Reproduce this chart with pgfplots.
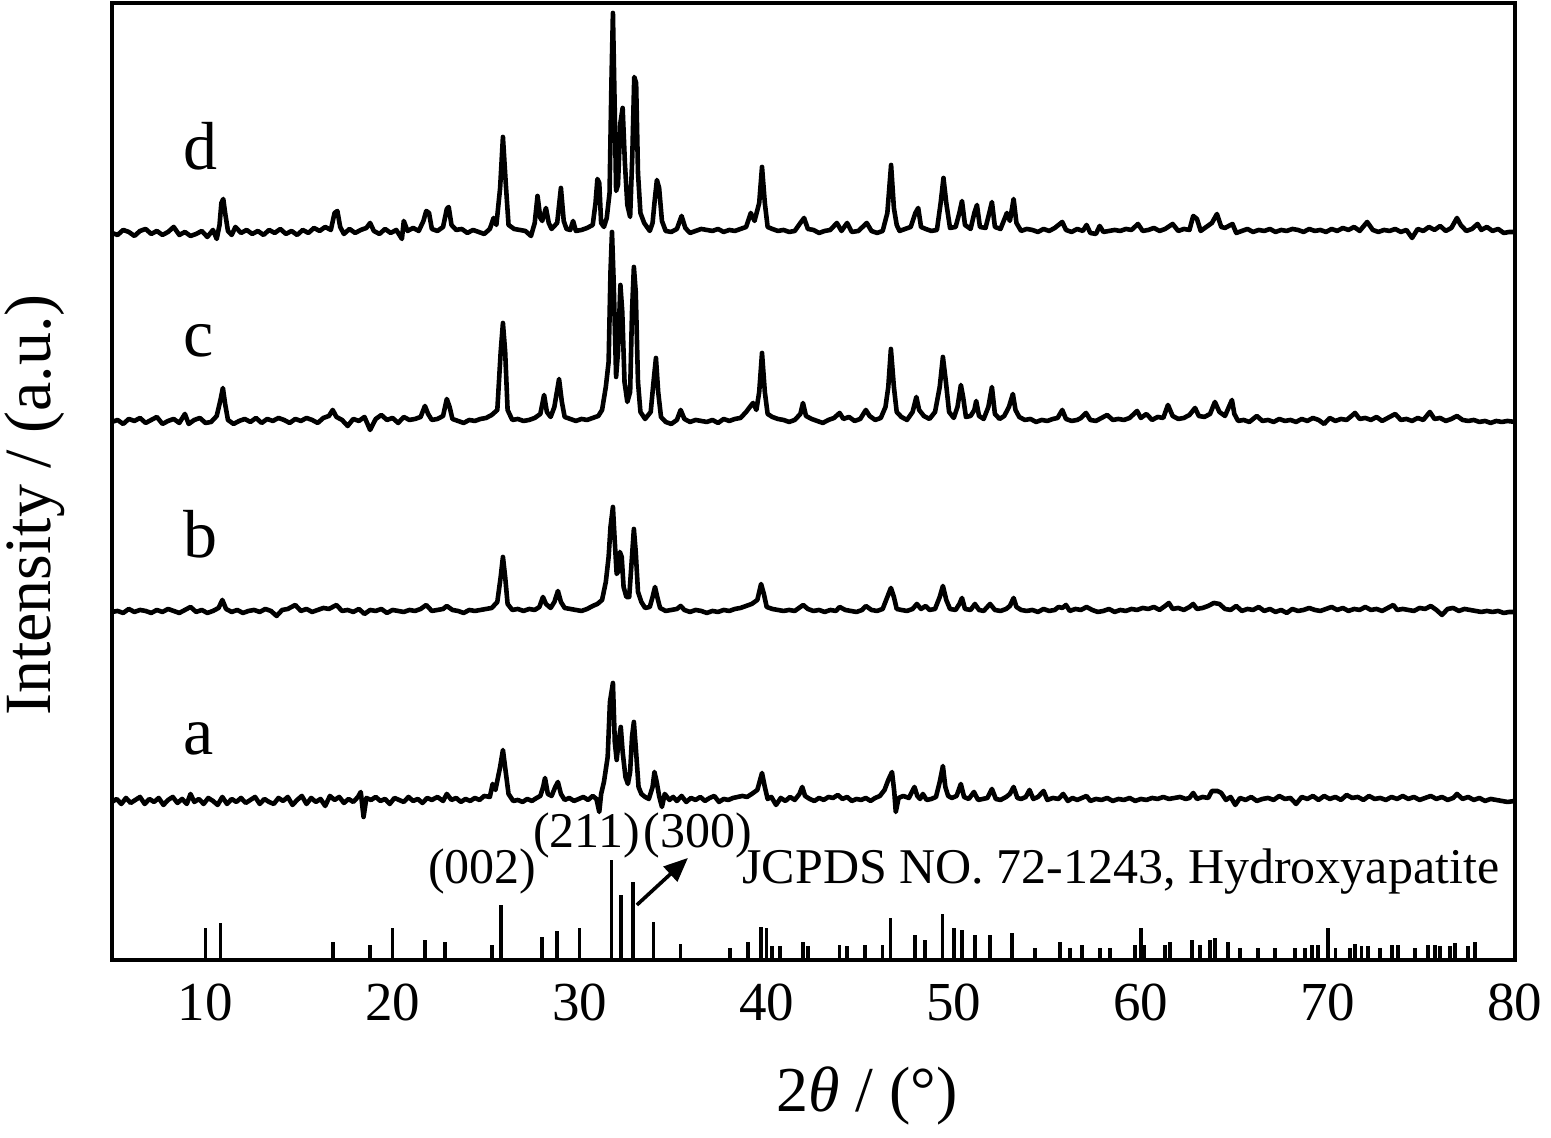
\documentclass[border=0pt]{standalone}
\usepackage{pgfplots}
\pgfplotsset{compat=1.18}
\usepackage{fontspec}
\setmainfont{Liberation Serif}
\usetikzlibrary{arrows.meta}

% y values are heights above each pattern's own baseline
\pgfplotsset{xrd/.style={black, line width=2.3pt, line join=round}}

\begin{document}
\begin{tikzpicture}
\begin{axis}[
  scale only axis,
  width=701.5pt, height=478.5pt,
  xmin=5, xmax=80, ymin=0, ymax=957,
  xtick={10,20,...,80},
  ytick=\empty,
  xtick pos=left,
  tick align=inside,
  major tick length=16pt,
  tick style={line width=1.8pt, black},
  axis line style={line width=2pt},
  /pgf/number format/assume math mode=true,
  xticklabel style={font=\fontsize{27.5}{30}\selectfont, anchor=base, yshift=-30.5pt},
  xlabel={2\textit{θ} / (°)},
  xlabel style={font=\fontsize{32}{36}\selectfont, at={(axis description cs:0.538,-0.158)}, anchor=base},
  ylabel={Intensity / (a.u.)},
  ylabel style={font=\fontsize{33}{36}\selectfont, at={(axis description cs:-0.0549,0.4754)}, anchor=center},
]

%%% d
\addplot[xrd, y filter/.expression={y+727}] coordinates {
(5.0,0)(5.3,-2)(5.6,3)(5.9,1)(6.2,-3)(6.5,2)(6.8,4)(7.1,-1)(7.4,2)(7.7,-2)(8.0,1)(8.3,6)(8.6,-2)(8.9,1)(9.2,-3)(9.5,-1)(9.8,2)(10.1,-4)(10.4,3)(10.6,-6)
(10.75,8)(10.85,30)(10.95,34)(11.05,20)(11.2,2)(11.4,-2)(11.6,6)(11.9,0)(12.2,3)(12.5,-1)(12.8,2)(13.1,-2)(13.4,3)(13.7,0)(14.0,4)(14.3,-1)(14.6,2)(14.9,-2)
(15.2,3)(15.5,0)(15.8,5)(16.1,2)(16.4,6)(16.7,3)(16.9,20)(17.05,22)(17.2,6)(17.4,-1)(17.7,4)(18.0,0)(18.3,3)(18.6,5)(18.8,10)(19.0,2)(19.3,-1)(19.6,4)(19.9,0)
(20.2,3)(20.5,-6)(20.6,12)(20.8,2)(21.1,5)(21.4,2)(21.65,12)(21.8,22)(21.95,20)(22.1,4)(22.4,2)(22.7,6)(22.9,24)(23.0,26)(23.15,8)(23.4,3)(23.7,4)(24.0,0)
(24.3,3)(24.6,1)(24.9,-1)(25.2,4)(25.4,15)(25.55,8)(25.75,45)(25.9,96)(26.05,50)(26.2,8)(26.5,4)(26.8,3)(27.1,2)(27.4,-3)(27.6,10)(27.75,37)(27.9,15)(28.0,12)
(28.2,25)(28.35,10)(28.5,4)(28.8,10)(29.0,45)(29.15,12)(29.3,4)(29.5,3)(29.65,12)(29.8,2)(30.1,3)(30.4,5)(30.7,8)(30.85,30)(30.95,54)(31.05,50)(31.15,10)
(31.3,6)(31.45,15)(31.6,40)(31.7,150)(31.78,220)(31.88,120)(31.95,42)(32.05,48)(32.18,110)(32.3,125)(32.42,70)(32.55,28)(32.7,16)(32.82,80)(32.92,156)
(33.02,150)(33.12,60)(33.25,20)(33.45,10)(33.75,2)(33.9,10)(34.0,30)(34.13,53)(34.25,45)(34.4,12)(34.6,2)(34.9,1)(35.2,4)(35.45,17)(35.65,5)(35.9,0)(36.2,2)
(36.5,4)(36.8,3)(37.1,2)(37.4,4)(37.7,1)(38.0,3)(38.3,2)(38.6,4)(38.9,6)(39.15,20)(39.35,12)(39.6,30)(39.75,66)(39.9,30)(40.05,6)(40.3,4)(40.6,2)(40.9,3)
(41.2,1)(41.5,2)(41.8,10)(42.0,15)(42.2,4)(42.5,3)(42.8,0)(43.1,2)(43.4,3)(43.75,10)(44.0,2)(44.3,10)(44.55,1)(44.9,2)(45.35,10)(45.6,2)(45.9,0)(46.2,2)
(46.45,20)(46.65,68)(46.8,25)(46.95,8)(47.1,2)(47.4,4)(47.7,6)(47.95,20)(48.1,25)(48.25,6)(48.5,4)(48.8,2)(49.1,3)(49.3,30)(49.45,55)(49.6,30)(49.8,5)
(50.1,6)(50.3,20)(50.44,32)(50.6,8)(50.9,4)(51.1,20)(51.24,28)(51.4,6)(51.7,5)(51.9,20)(52.04,31)(52.2,6)(52.5,4)(52.84,20)(53.0,12)(53.2,34)(53.35,10)
(53.6,2)(53.9,4)(54.2,3)(54.5,1)(54.8,4)(55.1,2)(55.4,5)(55.8,11)(56.0,3)(56.3,1)(56.6,4)(56.9,2)(57.1,8)(57.3,0)(57.6,-1)(57.8,7)(58.0,1)(58.3,2)(58.6,3)
(58.9,2)(59.2,4)(59.5,3)(59.85,9)(60.1,2)(60.4,3)(60.7,5)(61.0,2)(61.3,4)(61.7,9)(62.0,2)(62.3,4)(62.6,3)(62.8,17)(63.0,14)(63.2,2)(63.5,6)(63.8,10)
(64.07,19)(64.3,6)(64.5,5)(64.9,9)(65.1,0)(65.4,2)(65.7,4)(66.0,1)(66.3,3)(66.6,2)(66.9,4)(67.2,1)(67.5,3)(67.8,2)(68.1,4)(68.4,3)(68.7,1)(69.0,4)(69.3,2)
(69.6,3)(69.9,1)(70.2,4)(70.5,2)(70.8,5)(71.1,3)(71.4,6)(71.7,2)(72.1,11)(72.4,3)(72.7,1)(73.0,3)(73.3,2)(73.6,4)(73.9,1)(74.2,3)(74.5,-5)(74.8,4)(75.1,2)
(75.4,6)(75.7,3)(76.0,7)(76.3,2)(76.6,5)(76.9,15)(77.1,8)(77.4,2)(77.7,4)(78.0,9)(78.2,3)(78.5,6)(78.8,2)(79.1,4)(79.4,0)(79.7,1)(80.0,1)
};

%%% c
\addplot[xrd, y filter/.expression={y+538}] coordinates {
(5.0,0)(5.3,2)(5.6,-2)(5.9,3)(6.2,1)(6.5,4)(6.8,-1)(7.1,2)(7.4,5)(7.7,-2)(8.0,1)(8.3,3)(8.6,-1)(8.9,8)(9.1,-2)(9.4,2)(9.7,4)(10.0,-1)(10.3,0)(10.6,6)
(10.8,22)(10.93,34)(11.05,18)(11.2,2)(11.5,-2)(11.8,1)(12.1,3)(12.4,0)(12.7,4)(13.0,-1)(13.3,3)(13.6,1)(13.9,4)(14.2,2)(14.5,-1)(14.8,3)(15.1,1)(15.4,4)
(15.7,2)(16.0,-1)(16.3,4)(16.6,6)(16.8,12)(17.0,5)(17.3,2)(17.6,-4)(17.9,3)(18.2,1)(18.5,5)(18.8,-8)(19.1,3)(19.4,7)(19.7,2)(20.0,4)(20.3,-1)(20.6,5)
(20.9,2)(21.2,3)(21.5,5)(21.73,16)(21.9,8)(22.1,2)(22.4,3)(22.7,6)(22.9,23)(23.05,15)(23.2,3)(23.5,1)(23.8,-1)(24.1,2)(24.4,1)(24.7,3)(25.0,4)(25.3,7)
(25.6,12)(25.78,70)(25.9,99)(26.02,70)(26.15,12)(26.4,2)(26.7,3)(27.0,1)(27.3,2)(27.6,4)(27.9,8)(28.1,27)(28.25,10)(28.45,5)(28.65,15)(28.9,43)(29.05,20)
(29.2,5)(29.5,3)(29.8,1)(30.1,3)(30.4,2)(30.7,4)(31.0,6)(31.2,12)(31.4,35)(31.55,60)(31.65,150)(31.73,190)(31.82,140)(31.95,45)(32.05,70)(32.18,137)
(32.28,110)(32.4,40)(32.55,20)(32.7,30)(32.8,110)(32.9,155)(33.0,130)(33.12,40)(33.25,10)(33.5,3)(33.8,10)(33.95,40)(34.08,64)(34.2,30)(34.35,5)(34.6,0)
(34.9,-2)(35.2,2)(35.4,12)(35.6,3)(35.9,0)(36.2,2)(36.5,1)(36.8,0)(37.1,2)(37.4,-1)(37.7,3)(38.0,1)(38.3,3)(38.6,4)(38.9,10)(39.1,15)(39.27,19)(39.45,12)
(39.6,30)(39.75,69)(39.9,30)(40.05,8)(40.3,5)(40.6,3)(40.9,2)(41.2,0)(41.5,2)(41.8,8)(41.94,19)(42.1,6)(42.4,3)(42.7,1)(43.0,-1)(43.3,2)(43.6,4)(43.9,9)
(44.1,3)(44.4,5)(44.7,1)(45.0,3)(45.3,12)(45.5,6)(45.8,2)(46.1,4)(46.35,15)(46.5,35)(46.64,73)(46.8,35)(46.95,10)(47.2,5)(47.5,2)(47.8,10)(48.0,25)
(48.15,12)(48.4,6)(48.7,3)(49.0,10)(49.25,35)(49.42,65)(49.58,40)(49.75,10)(50.0,4)(50.2,15)(50.38,37)(50.5,25)(50.65,5)(50.9,6)(51.1,12)(51.2,21)
(51.35,6)(51.6,3)(51.85,15)(52.04,35)(52.2,8)(52.45,3)(52.7,6)(52.95,15)(53.16,28)(53.3,12)(53.5,5)(53.8,2)(54.1,3)(54.4,0)(54.7,2)(55.0,1)(55.3,3)
(55.55,4)(55.8,12)(56.0,3)(56.3,1)(56.6,2)(56.8,4)(57.07,9)(57.3,2)(57.6,1)(57.9,4)(58.2,7)(58.5,2)(58.8,3)(59.1,2)(59.4,4)(59.8,11)(60.0,4)(60.3,8)
(60.6,2)(60.9,5)(61.2,4)(61.45,17)(61.7,6)(62.0,3)(62.3,4)(62.6,7)(62.9,14)(63.1,6)(63.4,5)(63.7,8)(63.96,20)(64.2,10)(64.5,6)(64.87,22)(65.0,8)(65.2,1)
(65.5,2)(65.8,0)(66.2,6)(66.5,1)(66.8,2)(67.1,0)(67.4,3)(67.7,1)(68.0,2)(68.3,0)(68.6,3)(68.9,1)(69.2,4)(69.5,2)(69.8,-2)(70.1,4)(70.4,1)(70.7,3)(71.0,2)
(71.2,5)(71.45,9)(71.7,3)(72.0,4)(72.3,2)(72.6,5)(72.9,1)(73.2,4)(73.6,8)(73.9,2)(74.2,3)(74.5,1)(74.8,4)(75.1,2)(75.45,10)(75.7,3)(76.0,4)(76.3,1)
(76.6,3)(76.9,6)(77.2,2)(77.5,1)(77.8,2)(78.1,0)(78.4,1)(78.7,-1)(79.0,1)(79.3,0)(79.6,1)(80.0,0)
};

%%% b
\addplot[xrd, y filter/.expression={y+348}] coordinates {
(5.0,0)(5.3,1)(5.6,-1)(5.9,3)(6.2,0)(6.5,2)(6.8,1)(7.1,-1)(7.4,2)(7.7,0)(8.0,3)(8.3,1)(8.6,-1)(8.9,2)(9.2,5)(9.5,0)(9.8,2)(10.1,-1)(10.4,1)(10.7,4)
(10.9,12)(11.1,3)(11.4,0)(11.7,2)(12.0,-1)(12.3,1)(12.6,2)(12.9,0)(13.2,3)(13.5,1)(13.8,-4)(14.1,2)(14.4,3)(14.8,7)(15.1,1)(15.4,3)(15.7,0)(16.0,2)
(16.3,4)(16.6,3)(17.0,7)(17.3,1)(17.6,2)(17.9,0)(18.2,3)(18.5,-2)(18.8,2)(19.1,1)(19.4,3)(19.7,-1)(20.0,2)(20.3,1)(20.6,0)(20.9,2)(21.2,1)(21.5,3)
(21.8,7)(22.1,1)(22.4,2)(22.7,3)(22.9,6)(23.2,2)(23.5,1)(23.8,-1)(24.1,2)(24.4,1)(24.7,2)(25.0,3)(25.3,4)(25.6,10)(25.78,35)(25.9,55)(26.02,35)(26.15,8)
(26.4,2)(26.7,3)(27.0,1)(27.3,3)(27.6,2)(27.85,5)(28.04,15)(28.2,8)(28.45,4)(28.65,10)(28.84,21)(29.0,10)(29.2,4)(29.5,3)(29.8,2)(30.1,1)(30.4,3)(30.7,6)
(30.95,8)(31.2,12)(31.4,30)(31.55,55)(31.65,85)(31.78,105)(31.88,70)(31.98,38)(32.05,40)(32.15,60)(32.25,55)(32.35,25)(32.5,15)(32.65,15)(32.78,50)
(32.9,83)(33.0,60)(33.12,20)(33.3,10)(33.5,4)(33.75,5)(33.9,15)(34.03,25)(34.15,15)(34.3,4)(34.6,1)(34.9,2)(35.2,3)(35.4,6)(35.6,2)(35.9,0)(36.2,2)
(36.5,1)(36.8,-1)(37.1,1)(37.4,0)(37.7,2)(38.0,1)(38.3,3)(38.6,4)(38.9,6)(39.2,8)(39.5,12)(39.7,28)(39.85,18)(40.0,5)(40.3,3)(40.6,2)(40.9,1)(41.2,2)
(41.5,1)(41.8,5)(41.95,7)(42.2,3)(42.5,1)(42.8,2)(43.1,0)(43.4,2)(43.7,1)(43.9,5)(44.2,2)(44.5,1)(44.8,0)(45.1,2)(45.3,6)(45.6,2)(45.9,1)(46.2,3)
(46.45,15)(46.64,24)(46.8,15)(46.95,3)(47.2,2)(47.5,1)(47.8,3)(48.03,8)(48.25,3)(48.5,6)(48.7,2)(49.0,3)(49.25,15)(49.42,26)(49.6,12)(49.8,3)(50.1,2)
(50.3,8)(50.44,14)(50.6,3)(50.9,2)(51.13,8)(51.35,2)(51.6,1)(51.94,8)(52.2,2)(52.5,1)(52.8,3)(53.0,6)(53.2,14)(53.35,5)(53.6,2)(53.9,1)(54.2,2)(54.5,0)
(54.8,3)(55.1,1)(55.4,2)(55.6,5)(55.8,4)(56.0,7)(56.2,1)(56.5,3)(56.8,2)(57.1,5)(57.4,2)(57.7,0)(58.0,1)(58.3,3)(58.6,0)(58.9,2)(59.2,1)(59.5,3)(59.8,2)
(60.1,4)(60.4,3)(60.7,5)(61.0,2)(61.3,6)(61.5,9)(61.7,3)(62.0,4)(62.3,2)(62.6,5)(62.8,8)(63.0,3)(63.3,4)(63.6,6)(63.9,9)(64.2,8)(64.5,3)(64.8,2)(65.1,6)
(65.4,1)(65.7,3)(66.0,2)(66.3,5)(66.6,1)(66.9,3)(67.2,0)(67.5,2)(67.8,-1)(68.1,3)(68.4,1)(68.7,2)(69.0,4)(69.3,2)(69.6,1)(69.9,3)(70.2,5)(70.5,2)(70.8,4)
(71.1,1)(71.4,3)(71.7,2)(72.0,5)(72.3,2)(72.6,3)(72.9,1)(73.2,4)(73.5,7)(73.7,2)(74.0,3)(74.3,2)(74.6,1)(74.9,4)(75.2,3)(75.5,6)(75.8,2)(76.1,-3)(76.4,3)
(76.7,4)(77.0,1)(77.3,3)(77.6,2)(77.9,1)(78.2,0)(78.5,1)(78.8,0)(79.1,1)(79.4,-1)(79.7,0)(80.0,0)
};

%%% a
\addplot[xrd, y filter/.expression={y+158}] coordinates {
(5.0,0)(5.25,3)(5.5,-2)(5.75,4)(6.0,-1)(6.25,2)(6.5,5)(6.75,-2)(7.0,3)(7.25,0)(7.5,4)(7.75,-3)(8.0,2)(8.25,5)(8.5,-1)(8.75,3)(9.0,-2)(9.2,8)(9.4,0)
(9.65,3)(9.9,-2)(10.15,4)(10.4,1)(10.65,-3)(10.9,5)(11.15,-2)(11.4,3)(11.65,0)(11.9,4)(12.15,-1)(12.4,2)(12.65,5)(12.9,-2)(13.15,3)(13.4,0)(13.65,-2)
(13.9,4)(14.15,1)(14.4,5)(14.65,-3)(14.9,2)(15.15,6)(15.4,-2)(15.65,4)(15.9,0)(16.15,3)(16.4,-4)(16.65,6)(16.9,2)(17.15,5)(17.4,-1)(17.65,3)(17.9,0)
(18.15,5)(18.3,10)(18.45,-15)(18.6,4)(18.85,2)(19.1,5)(19.35,1)(19.6,3)(19.85,-2)(20.1,4)(20.35,2)(20.6,0)(20.85,5)(21.1,1)(21.35,3)(21.6,-1)(21.85,4)
(22.1,2)(22.4,5)(22.7,1)(22.9,8)(23.15,2)(23.4,4)(23.65,0)(23.9,3)(24.15,1)(24.4,4)(24.65,2)(24.9,6)(25.2,5)(25.35,18)(25.5,12)(25.75,35)(25.9,52)
(26.05,30)(26.2,8)(26.45,1)(26.7,2)(26.95,0)(27.2,3)(27.45,1)(27.7,4)(27.9,6)(28.05,15)(28.15,24)(28.3,8)(28.5,6)(28.7,15)(28.84,20)(29.0,8)(29.2,2)
(29.45,4)(29.7,1)(29.95,3)(30.2,5)(30.45,2)(30.7,6)(30.9,3)(31.05,-10)(31.15,8)(31.3,20)(31.5,45)(31.62,100)(31.78,119)(31.88,60)(31.98,42)(32.08,60)
(32.2,75)(32.3,50)(32.45,25)(32.58,18)(32.7,30)(32.8,65)(32.9,80)(33.0,55)(33.15,15)(33.3,8)(33.5,5)(33.7,3)(33.9,15)(34.0,30)(34.12,20)(34.25,6)
(34.4,-5)(34.55,8)(34.8,2)(35.0,5)(35.2,1)(35.45,6)(35.7,0)(35.95,4)(36.2,2)(36.45,5)(36.7,1)(36.95,4)(37.2,6)(37.45,0)(37.7,3)(37.95,2)(38.2,4)
(38.45,5)(38.7,6)(38.95,5)(39.2,8)(39.5,12)(39.75,29)(39.9,15)(40.05,3)(40.25,5)(40.5,-3)(40.75,4)(41.0,1)(41.25,5)(41.5,2)(41.75,8)(41.9,15)(42.05,6)
(42.3,3)(42.55,1)(42.8,4)(43.05,2)(43.3,5)(43.55,4)(43.8,7)(44.05,3)(44.3,5)(44.55,1)(44.8,3)(45.05,2)(45.3,4)(45.55,1)(45.8,4)(46.05,6)(46.3,12)
(46.5,22)(46.7,30)(46.82,10)(46.9,-10)(47.05,4)(47.3,6)(47.6,4)(47.9,15)(48.05,6)(48.2,3)(48.35,8)(48.55,2)(48.8,3)(49.05,5)(49.25,20)(49.42,36)
(49.55,15)(49.7,6)(49.9,4)(50.15,6)(50.38,18)(50.55,5)(50.8,3)(51.08,10)(51.3,2)(51.55,3)(51.8,4)(52.04,13)(52.25,3)(52.5,2)(52.8,5)(53.0,8)(53.2,15)
(53.4,4)(53.6,3)(53.85,5)(54.05,12)(54.25,3)(54.5,5)(54.8,11)(55.0,2)(55.3,4)(55.6,3)(55.85,8)(56.1,1)(56.35,4)(56.6,2)(57.1,6)(57.3,1)(57.6,3)(57.9,2)
(58.2,4)(58.5,1)(58.8,3)(59.1,2)(59.4,4)(59.7,1)(60.0,3)(60.3,2)(60.6,4)(60.9,3)(61.2,5)(61.5,3)(61.8,4)(62.1,5)(62.4,3)(62.6,4)(62.8,9)(63.0,3)(63.3,5)
(63.6,4)(63.8,11)(64.1,11)(64.3,9)(64.55,2)(64.8,5)(65.05,-3)(65.3,4)(65.6,2)(65.9,5)(66.2,1)(66.5,3)(66.8,4)(67.1,2)(67.4,6)(67.7,3)(68.0,4)(68.3,-2)
(68.6,5)(68.9,3)(69.2,6)(69.5,2)(69.8,6)(70.1,3)(70.4,5)(70.7,2)(71.0,7)(71.3,4)(71.6,5)(71.9,2)(72.2,6)(72.5,3)(72.8,4)(73.1,2)(73.4,5)(73.7,3)(74.0,6)
(74.3,3)(74.6,5)(74.9,2)(75.2,4)(75.5,6)(75.8,3)(76.1,5)(76.4,2)(76.7,4)(76.9,8)(77.2,3)(77.5,5)(77.8,2)(78.1,4)(78.4,1)(78.7,3)(79.0,2)(79.3,1)(79.6,0)(80.0,1)
};

%%% JCPDS 72-1243 reference lines
\addplot[black, line width=1.8pt, ycomb, mark=none] coordinates {
(10.8,37)(16.81,18)(18.79,15)(21.73,20)(22.8,18)(25.31,15)(25.8,55)(28.0,23)(28.8,29)(31.7,100)(32.2,65)(32.85,78)(33.95,38)(35.4,16)
(38.04,12)(39.0,18)(39.7,33)(40.28,14)(40.7,14)(41.94,18)(42.2,14)(43.9,15)(44.3,14)(45.25,15)(46.2,15)(46.62,42)(47.93,25)(48.46,20)
(49.4,46)(50.45,30)(51.13,25)(51.93,25)(53.1,27)(54.34,12)(55.68,18)(56.2,12)(56.85,15)(57.81,12)(58.35,12)(59.69,15)(60.2,15)(61.3,15)
(61.56,18)(62.73,20)(63.16,15)(63.7,20)(63.96,22)(64.66,18)(65.3,12)(66.26,12)(67.17,12)(68.24,12)(68.77,12)(69.15,15)(69.47,15)(70.4,12)
(71.18,12)(71.45,16)(71.8,14)(72.14,14)(72.78,12)(73.42,15)(73.74,15)(74.65,12)(75.35,15)(75.72,15)(75.99,14)(76.52,14)(76.79,17)(77.49,14)(77.86,18)
};

\draw[line width=1.8pt, -{Triangle[length=12pt,width=10pt]}] (axis cs:33.06,55) -- (axis cs:35.79,102);

\begin{scope}[every node/.style={anchor=base west, inner sep=0pt, font=\fontsize{25}{28}\selectfont}]
\node at (axis cs:21.89,76) {(002)};
\node at (axis cs:27.5,112) {(211)};
\node at (axis cs:33.39,112) {(300)};
\node at (axis cs:38.68,76) {JCPDS NO. 72-1243, Hydroxyapatite};
\end{scope}

\begin{scope}[every node/.style={anchor=base west, inner sep=0pt, font=\fontsize{34}{38}\selectfont}]
\node at (axis cs:8.8,790) {d};
\node at (axis cs:8.8,603) {c};
\node at (axis cs:8.8,402) {b};
\node at (axis cs:8.8,205) {a};
\end{scope}

\coordinate (bbsw) at (rel axis cs:-0.0798,-0.186);
\coordinate (bbne) at (rel axis cs:1.0257,1.0031);
\end{axis}
\pgfresetboundingbox
\path[use as bounding box] (bbsw) rectangle (bbne);
\end{tikzpicture}
\end{document}
